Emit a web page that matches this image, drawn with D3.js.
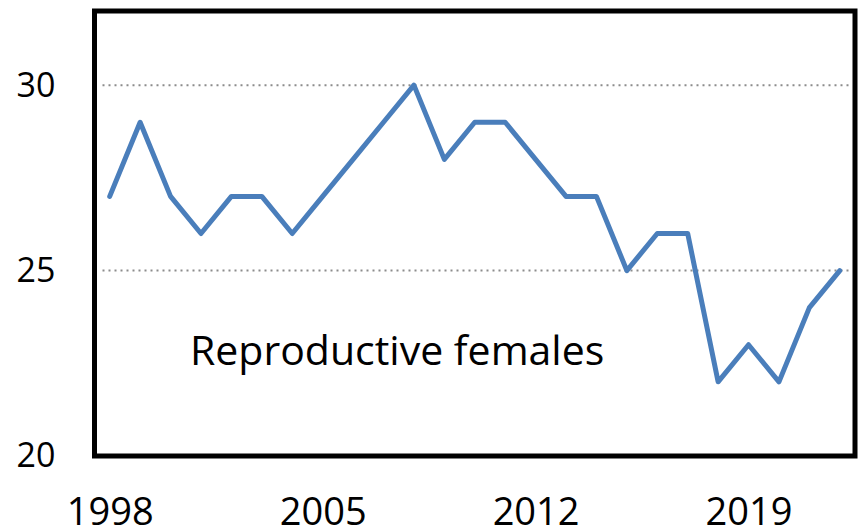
<!DOCTYPE html>
<html>
<head>
<meta charset="utf-8">
<script src="https://cdn.jsdelivr.net/npm/d3@7"></script>
<style>
  body { margin: 0; background: #fff; }
  svg { display: block; font-family: "Open Sans", sans-serif; }
</style>
</head>
<body>
<div id="chart"></div>
<script>
// data
let years = [1998, 1999, 2000, 2001, 2002, 2003, 2004, 2005, 2006, 2007, 2008, 2009,
             2010, 2011, 2012, 2013, 2014, 2015, 2016, 2017, 2018, 2019, 2020, 2021, 2022];
let females = [27, 29, 27, 26, 27, 27, 26, 27, 28, 29, 30, 28,
               29, 29, 28, 27, 27, 25, 26, 26, 22, 23, 22, 24, 25];
let yTicks = [20, 25, 30];
let gridTicks = [25, 30];
let xTicks = [1998, 2005, 2012, 2019];
let label = 'Reproductive females';

let width = 863;
let height = 528;
let plotLeft = 94.5, plotRight = 855, plotTop = 11, plotBottom = 456;

let svg = d3.select('#chart').append('svg').attr('width', width).attr('height', height);

let x = d3.scalePoint().domain(years).range([plotLeft, plotRight]).padding(0.5);
let y = d3.scaleLinear().domain([20, 32]).range([plotBottom, plotTop]);

// dotted gridlines
svg.selectAll('line.grid')
  .data(gridTicks)
  .enter().append('line')
    .attr('class', 'grid')
    .attr('x1', plotLeft + 8)
    .attr('x2', plotRight - 3)
    .attr('y1', function (d) { return y(d); })
    .attr('y2', function (d) { return y(d); })
    .attr('stroke', '#8c8c8c')
    .attr('stroke-width', 2)
    .attr('stroke-dasharray', '2,4');

// axes (labels only)
let yAxis = d3.axisLeft(y).tickValues(yTicks).tickSize(0).tickPadding(39);
let xAxis = d3.axisBottom(x).tickValues(xTicks).tickSize(0).tickPadding(42);

let gy = svg.append('g').attr('transform', 'translate(' + plotLeft + ',0)').call(yAxis);
gy.select('.domain').remove();
gy.selectAll('text').attr('font-size', 34).attr('fill', '#000').attr('font-family', '"Open Sans", sans-serif');

let gx = svg.append('g').attr('transform', 'translate(0,' + plotBottom + ')').call(xAxis);
gx.select('.domain').remove();
gx.selectAll('text').attr('font-size', 38).attr('fill', '#000').attr('font-family', '"Open Sans", sans-serif');

// the series
let line = d3.line()
  .x(function (d, i) { return x(years[i]); })
  .y(function (d) { return y(d); });

svg.append('path')
  .attr('fill', 'none')
  .attr('stroke', '#4a7ebb')
  .attr('stroke-width', 5)
  .attr('stroke-linejoin', 'round')
  .attr('stroke-linecap', 'round')
  .attr('d', line(females));

// frame
svg.append('rect')
  .attr('x', plotLeft)
  .attr('y', plotTop)
  .attr('width', plotRight - plotLeft)
  .attr('height', plotBottom - plotTop)
  .attr('fill', 'none')
  .attr('stroke', '#000')
  .attr('stroke-width', 5);

// series label
svg.append('text')
  .attr('x', 190)
  .attr('y', 365)
  .attr('font-size', 41)
  .attr('fill', '#000')
  .text(label);
</script>
</body>
</html>
